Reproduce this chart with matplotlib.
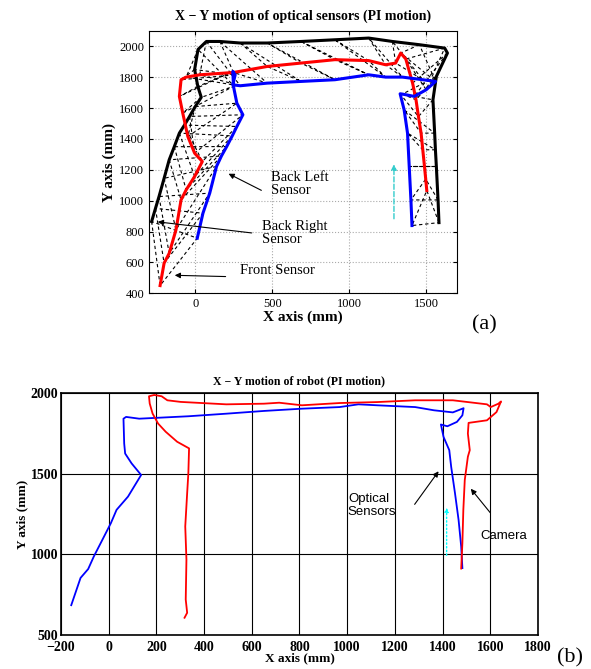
import numpy as np
import matplotlib
matplotlib.use("Agg")
import matplotlib.pyplot as plt

plt.rcParams["font.family"] = ["Liberation Serif", "DejaVu Serif"]

# ---- (a) optical sensors, samples taken at the same instants ----
black_x = [-283, -258, -235, -202, -169, -136, -103, -70, -37, 0, 39, 17, -4, 18, 72, 160,
           292, 467, 686, 906, 1125, 1279, 1454, 1618, 1636, 1564, 1542, 1553, 1558, 1564, 1575, 1581]
black_y = [865, 950, 1027, 1145, 1265, 1350, 1438, 1490, 1546, 1610, 1670, 1740, 1850, 1980, 2032, 2032,
           2022, 2022, 2032, 2043, 2054, 2032, 2011, 1989, 1957, 1805, 1654, 1438, 1330, 1222, 1005, 858]
red_x = [-228, -202, -169, -125, -92, -59, -4, 46, -4, -48, -81, -103, -92, -59, 29, 248,
         467, 686, 906, 1125, 1235, 1300, 1333, 1366, 1410, 1432, 1448, 1465, 1476, 1487, 1495, 1502]
red_y = [450, 595, 659, 811, 1005, 1070, 1157, 1254, 1308, 1416, 1568, 1676, 1784, 1801, 1816, 1831,
         1870, 1892, 1914, 1908, 1881, 1892, 1957, 1918, 1762, 1654, 1545, 1438, 1330, 1222, 1140, 1066]
blue_x = [13, 50, 94, 138, 170, 204, 240, 270, 309, 270, 248, 244, 259, 244, 292, 467,
          686, 906, 1125, 1235, 1344, 1476, 1559, 1498, 1421, 1344, 1329, 1355, 1377, 1388, 1399, 1406]
blue_y = [757, 919, 1049, 1222, 1290, 1351, 1420, 1481, 1557, 1632, 1741, 1838, 1816, 1751, 1745, 1762,
          1773, 1784, 1816, 1801, 1801, 1784, 1773, 1719, 1676, 1691, 1693, 1589, 1438, 1222, 1005, 839]

# ---- (b) robot path ----
opt_x = [-157, -118, -86, -62, -30, 9, 33, 81, 136, 96, 69, 65, 62, 73, 128, 334, 493, 651, 810,
         968, 1047, 1126, 1285, 1364, 1443, 1488, 1483, 1460, 1420, 1393, 1404, 1428, 1436, 1452,
         1467, 1478, 1483]
opt_y = [685, 854, 909, 988, 1080, 1193, 1276, 1358, 1492, 1564, 1625, 1687, 1841, 1852, 1841,
         1856, 1872, 1889, 1903, 1913, 1930, 1924, 1913, 1893, 1880, 1906, 1862, 1821, 1794, 1805,
         1728, 1646, 1543, 1379, 1214, 1049, 915]
cam_x = [318, 329, 323, 326, 321, 329, 334, 337, 287, 239, 207, 184, 172, 169, 191, 222, 246, 302,
         493, 651, 715, 810, 968, 1126, 1285, 1443, 1586, 1602, 1634, 1645, 1626, 1586, 1538, 1509,
         1506, 1514, 1506, 1493, 1487, 1483, 1478]
cam_y = [607, 638, 720, 967, 1173, 1379, 1502, 1657, 1698, 1760, 1811, 1873, 1935, 1980, 1988,
         1980, 1955, 1945, 1930, 1934, 1940, 1924, 1938, 1944, 1955, 1955, 1930, 1913, 1934, 1948,
         1882, 1831, 1821, 1815, 1749, 1646, 1605, 1461, 1276, 1070, 912]

fig = plt.figure(figsize=(5.91, 6.69), dpi=100)

# ================= (a) =================
ax1 = fig.add_axes([0.2521, 0.5616, 0.5217, 0.3921])
for i in range(len(black_x)):
    tx = [black_x[i], red_x[i], blue_x[i], black_x[i]]
    ty = [black_y[i], red_y[i], blue_y[i], black_y[i]]
    ax1.plot(tx, ty, "k--", lw=0.8, dashes=(3, 2.5))
ax1.plot(black_x, black_y, color="black", lw=2.2)
ax1.plot(red_x, red_y, color="red", lw=2.2)
ax1.plot(blue_x, blue_y, color="blue", lw=2.2)

ax1.annotate("", xy=(1289, 1254), xytext=(1289, 865),
             arrowprops=dict(arrowstyle="-|>", color="#33cccc", lw=1, ls="--", mutation_scale=8))
arr = dict(arrowstyle="-|>", color="black", lw=0.8, mutation_scale=8)
ax1.text(489, 1109, "Back Left\nSensor", fontsize=10.5, va="center", ha="left", linespacing=1.0)
ax1.annotate("", xy=(200, 1183), xytext=(445, 1059), arrowprops=arr)
ax1.text(434, 789, "Back Right\nSensor", fontsize=10.5, va="center", ha="left", linespacing=1.0)
ax1.annotate("", xy=(-261, 865), xytext=(384, 789), arrowprops=arr)
ax1.text(292, 545, "Front Sensor", fontsize=10.5, va="center", ha="left")
ax1.annotate("", xy=(-151, 517), xytext=(215, 508), arrowprops=arr)

ax1.set_xlim(-300, 1700)
ax1.set_ylim(400, 2100)
ax1.set_xticks([0, 500, 1000, 1500])
ax1.set_yticks(np.arange(400, 2001, 200))
ax1.grid(True, color="#aaaaaa", ls=":", lw=0.8)
ax1.tick_params(direction="in", labelsize=9, length=3, top=True, right=True)
ax1.set_title("X − Y motion of optical sensors (PI motion)", fontsize=10, fontweight="bold", pad=8)
ax1.set_xlabel("X axis (mm)", fontsize=11, fontweight="bold", labelpad=0)
ax1.set_ylabel("Y axis (mm)", fontsize=11, fontweight="bold", labelpad=2)
fig.text(0.819, 0.514, "(a)", fontsize=16, ha="center", va="center")

# ================= (b) =================
ax2 = fig.add_axes([0.1032, 0.0508, 0.8071, 0.3617])
ax2.plot(opt_x, opt_y, color="blue", lw=1.3)
ax2.plot(cam_x, cam_y, color="red", lw=1.3)
ax2.annotate("", xy=(1417, 1307), xytext=(1417, 977),
             arrowprops=dict(arrowstyle="-|>", color="cyan", lw=1, ls=":", mutation_scale=6))
sans = ["Liberation Sans", "DejaVu Sans"]
ax2.text(1003, 1301, "Optical\nSensors", fontsize=9.5, family=sans, va="center", ha="left", linespacing=1.1)
ax2.annotate("", xy=(1390, 1529), xytext=(1276, 1296), arrowprops=arr)
ax2.text(1558, 1114, "Camera", fontsize=9.5, family=sans, va="center", ha="left")
ax2.annotate("", xy=(1511, 1420), xytext=(1607, 1245), arrowprops=arr)

ax2.set_xlim(-200, 1800)
ax2.set_ylim(500, 2000)
ax2.set_xticks(np.arange(-200, 1801, 200))
ax2.set_yticks([500, 1000, 1500, 2000])
ax2.grid(True, color="black", ls="-", lw=0.8)
ax2.tick_params(axis="x", length=0, labelsize=10, pad=4)
ax2.tick_params(axis="y", length=0, labelsize=10, pad=2)
for lab in ax2.get_xticklabels() + ax2.get_yticklabels():
    lab.set_fontweight("bold")
for s in ax2.spines.values():
    s.set_linewidth(1.2)
ax2.set_title("X − Y motion of robot (PI motion)", fontsize=8.5, fontweight="bold", pad=6)
ax2.set_xlabel("X axis (mm)", fontsize=9.5, fontweight="bold", labelpad=-1)
ax2.set_ylabel("Y axis (mm)", fontsize=9.5, fontweight="bold", labelpad=2)
fig.text(0.965, 0.016, "(b)", fontsize=16, ha="center", va="center")

fig.savefig("out.png", dpi=100)
